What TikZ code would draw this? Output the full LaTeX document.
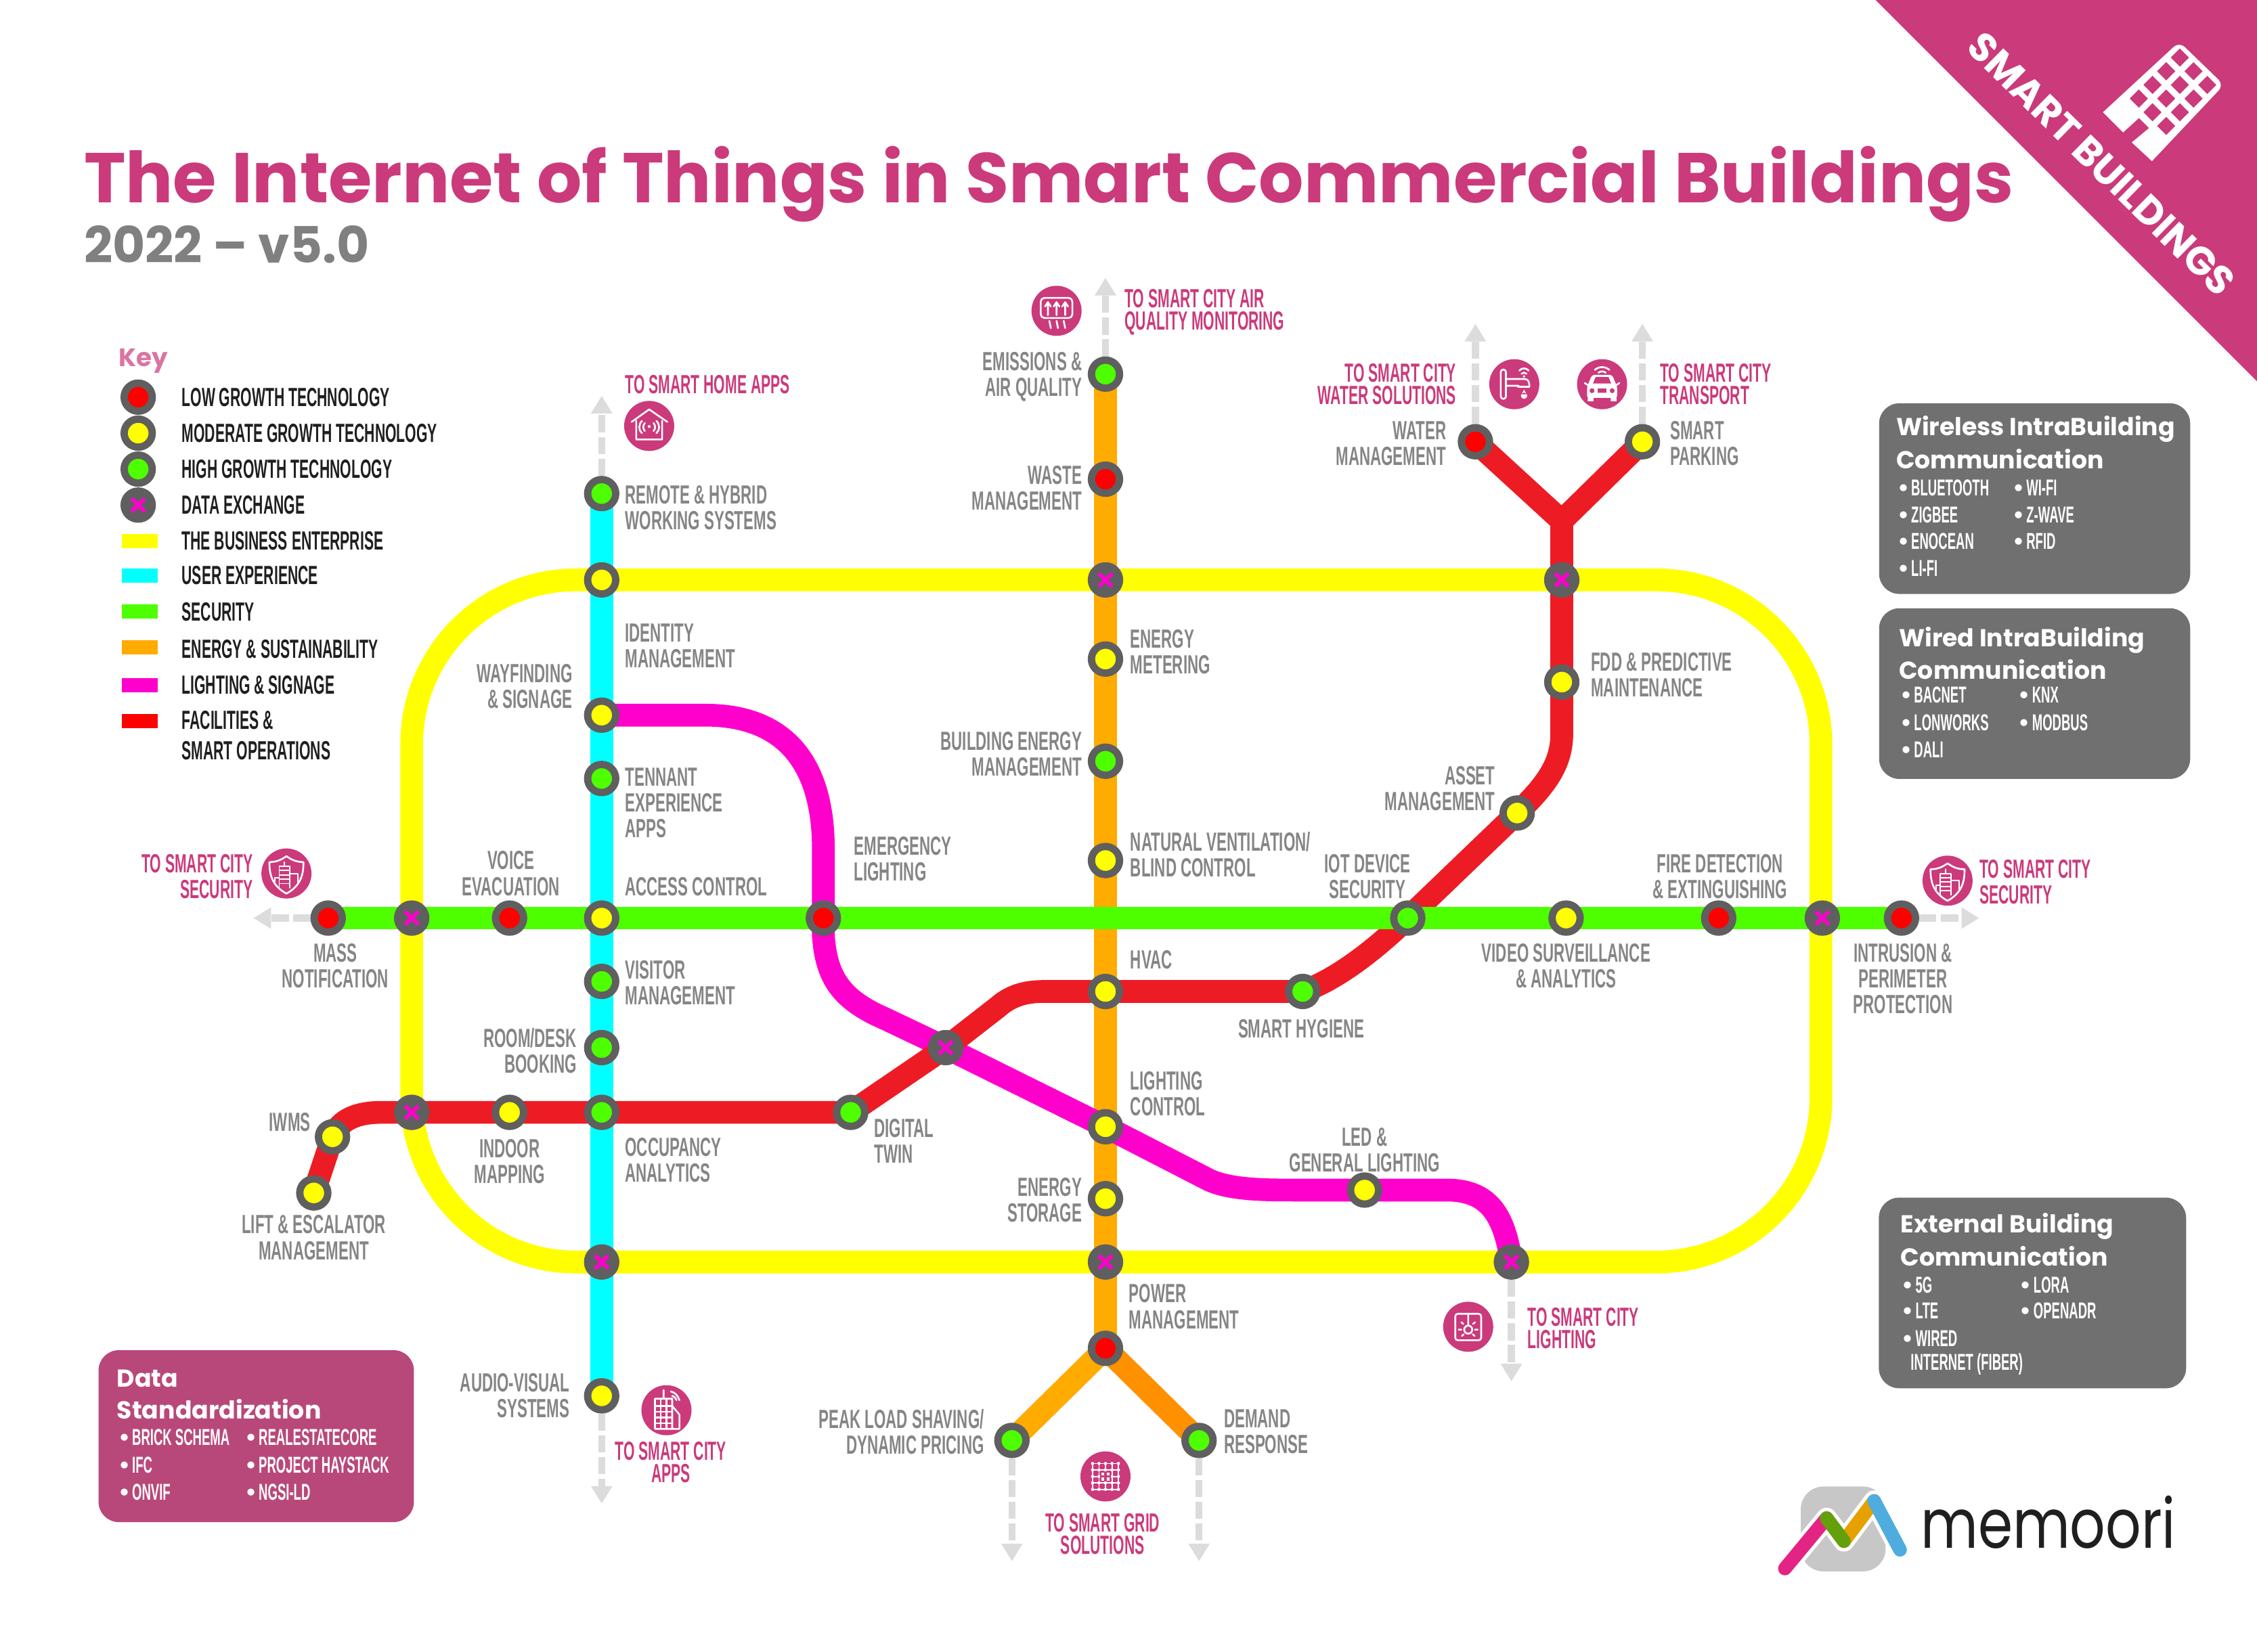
\documentclass[tikz,border=0pt]{standalone}
\usepackage{fontspec}
\usepackage{tikz}
\usetikzlibrary{arrows.meta}
\usetikzlibrary{shapes.geometric}
\newfontfamily\bebas[FakeStretch=0.545]{Liberation Sans}
\newfontfamily\bebaswide[FakeStretch=0.575]{Liberation Sans}
\newfontfamily\popfont{Poppins}
\newfontfamily\logofont[FakeStretch=0.81]{Poppins}
\newcommand{\itembul}{{\popfont •}\hspace{0.8pt}}
\definecolor{metroyellow}{HTML}{FFFF00}
\definecolor{metrocyan}{HTML}{00FFFF}
\definecolor{metrogreen}{HTML}{4EFF00}
\definecolor{metroorange}{HTML}{FFAB00}
\definecolor{metromagenta}{HTML}{FF00CC}
\definecolor{metrored}{HTML}{ED1C24}
\definecolor{dotred}{HTML}{FF0000}
\definecolor{ringgrey}{HTML}{5F5F5F}
\definecolor{labelgrey}{HTML}{858585}
\definecolor{smartpink}{HTML}{CB3A7B}
\definecolor{datapink}{HTML}{B9487A}
\definecolor{boxgrey}{HTML}{707070}
\definecolor{arrowgrey}{HTML}{DCDCDC}
\pgfdeclarelayer{lines}
\pgfsetlayers{lines,main}
\tikzstyle{lowst}=[circle,draw=ringgrey,line width=2.9pt,minimum size=11.1pt,inner sep=0pt,fill=dotred]
\tikzstyle{modst}=[lowst,fill=metroyellow]
\tikzstyle{highst}=[lowst,fill=metrogreen]
\tikzstyle{xst}=[lowst,fill=ringgrey,path picture={
        \draw[metromagenta,line width=1.5pt] (-2.6pt,-2.6pt) -- (2.6pt,2.6pt) (-2.6pt,2.6pt) -- (2.6pt,-2.6pt);}]
\tikzstyle{metro}=[line width=9pt,line join=round]
\tikzstyle{tocity}=[-{Triangle[length=7pt,width=8pt]},arrowgrey,line width=2.8pt,dash pattern=on 6.8pt off 1.8pt]
\tikzstyle{lbl}=[inner sep=0pt,text=labelgrey,font=\bebaswide\bfseries\fontsize{10.4}{10.2}\selectfont]
\tikzstyle{lblw}=[lbl,anchor=west,align=left]
\tikzstyle{lble}=[lbl,anchor=east,align=right]
\tikzstyle{lblc}=[lbl,align=center]
\tikzstyle{citylbl}=[text=smartpink,font=\bebas\bfseries\fontsize{10.4}{8.8}\selectfont]
\tikzstyle{citysec}=[text=smartpink,font=\bebas\bfseries\fontsize{10.4}{10.2}\selectfont]
\tikzstyle{keytxt}=[lblw,text=black!88,font=\bebas\bfseries\fontsize{10.4}{10.2}\selectfont]
\tikzstyle{swatch}=[inner sep=0pt,minimum width=14.2pt,minimum height=5.6pt]
\tikzstyle{iconbg}=[circle,fill=smartpink,minimum size=19.8pt,inner sep=0pt]
\tikzstyle{iconline}=[white,line width=0.7pt,line cap=round,line join=round]
\tikzstyle{infobox}=[rounded corners=8pt,inner sep=0pt]
\tikzstyle{boxhead}=[anchor=west,inner sep=0pt,text=white,font=\popfont\bfseries\fontsize{9.7}{12}\selectfont]
\tikzstyle{boxitem}=[anchor=west,inner sep=0pt,text=white,font=\bebas\bfseries\fontsize{9.1}{10}\selectfont]
\begin{document}
\begin{tikzpicture}[x=0.02cm,y=-0.02cm]
\useasboundingbox (0,0) rectangle (1568,1148);
% corner banner
\fill[smartpink] (1303,0) -- (1568,0) -- (1568,265) -- cycle;
\node[rotate=-44.5,text=white,inner sep=0pt,font=\popfont\bfseries\fontsize{15.6}{17}\selectfont] (banner) at (1460,114) {SMART BUILDINGS};
\fill[white] (1461,78) [rounded corners=3pt] -- (1514,29) -- (1545,59) [sharp corners] -- (1495,112) -- (1481,99) -- (1493,89) -- (1486,82) -- (1475,92) -- cycle;
\foreach \i in {0,...,3}
  \foreach \j in {0,1,2}
    \fill[smartpink] (1508.1-9.5*\i+9.5*\j,40+9.5*\i+9.5*\j) -- (1514.4-9.5*\i+9.5*\j,33.7+9.5*\i+9.5*\j) -- (1520.7-9.5*\i+9.5*\j,40+9.5*\i+9.5*\j) -- (1514.4-9.5*\i+9.5*\j,46.3+9.5*\i+9.5*\j) -- cycle;
% title
\node[anchor=west,inner sep=0pt,text=smartpink,font=\popfont\bfseries\fontsize{27.9}{30}\selectfont] (title) at (58,128) {The Internet of Things in Smart Commercial Buildings};
\node[anchor=west,inner sep=0pt,text=gray,font=\popfont\bfseries\fontsize{19.8}{22}\selectfont] (subtitle) at (58,170) {2022 – v5.0};
% key
\node[anchor=west,inner sep=0pt,text=smartpink!70!white,font=\popfont\bfseries\fontsize{10}{12}\selectfont] (keyhead) at (82,251) {Key};
\node[lowst] (keylow) at (96,276) {};
\node[modst] (keymod) at (96,301) {};
\node[highst] (keyhigh) at (96,326) {};
\node[xst] (keyx) at (96,351) {};
\node[swatch,fill=metroyellow] (keybus) at (97,376) {};
\node[swatch,fill=metrocyan] (keyuser) at (97,400) {};
\node[swatch,fill=metrogreen] (keysec) at (97,425) {};
\node[swatch,fill=metroorange] (keyener) at (97,450) {};
\node[swatch,fill=metromagenta] (keylight) at (97,476) {};
\node[swatch,fill=dotred] (keyfac) at (97,501) {};
\node[keytxt] (tlow) at (126,276) {LOW GROWTH TECHNOLOGY};
\node[keytxt] (tmod) at (126,301) {MODERATE GROWTH TECHNOLOGY};
\node[keytxt] (thigh) at (126,326) {HIGH GROWTH TECHNOLOGY};
\node[keytxt] (tx) at (126,351) {DATA EXCHANGE};
\node[keytxt] (tbus) at (126,376) {THE BUSINESS ENTERPRISE};
\node[keytxt] (tuser) at (126,400) {USER EXPERIENCE};
\node[keytxt] (tsec) at (126,425) {SECURITY};
\node[keytxt] (tener) at (126,451) {ENERGY \& SUSTAINABILITY};
\node[keytxt] (tlight) at (126,476) {LIGHTING \& SIGNAGE};
\node[keytxt,font=\bebas\bfseries\fontsize{10.4}{12}\selectfont] (tfac) at (126,511) {FACILITIES \&\\SMART OPERATIONS};
% stations, user experience
\node[highst] (remote) at (418,343) {};
\node[modst] (identity) at (418,403) {};
\node[modst] (wayfinding) at (418,497) {};
\node[highst] (tennant) at (418,541) {};
\node[modst] (access) at (418,638) {};
\node[highst] (visitor) at (418,682) {};
\node[highst] (roomdesk) at (418,728) {};
\node[highst] (occupancy) at (418,773) {};
\node[xst] (xbotuser) at (418,877) {};
\node[modst] (audio) at (418,970) {};
% stations, energy
\node[highst] (emissions) at (768,260) {};
\node[lowst] (waste) at (768,333) {};
\node[xst] (xtopener) at (768,403) {};
\node[modst] (metering) at (768,458) {};
\node[highst] (bems) at (768,529) {};
\node[modst] (natural) at (768,598) {};
\node[modst] (hvac) at (768,689) {};
\node[modst] (lighting) at (768,783) {};
\node[modst] (storage) at (768,833) {};
\node[xst] (xbotener) at (768,877) {};
\node[lowst] (power) at (768,937) {};
\node[highst] (peak) at (703,1001) {};
\node[highst] (demand) at (833,1001) {};
% stations, facilities
\node[lowst] (water) at (1025,307) {};
\node[modst] (parking) at (1141,307) {};
\node[xst] (xtopfac) at (1085,403) {};
\node[modst] (fdd) at (1085,474) {};
\node[modst] (asset) at (1054,565) {};
\node[highst] (iot) at (978,638) {};
\node[highst] (hygiene) at (905,689) {};
\node[xst] (xmid) at (657,728) {};
\node[highst] (twin) at (591,773) {};
\node[modst] (indoor) at (354,773) {};
\node[xst] (xleftfac) at (286,773) {};
\node[modst] (iwms) at (231,790) {};
\node[modst] (lift) at (218,829) {};
% stations, security
\node[lowst] (mass) at (228,638) {};
\node[xst] (xleftsec) at (286,638) {};
\node[lowst] (voice) at (354,638) {};
\node[lowst] (emergency) at (572,638) {};
\node[modst] (video) at (1088,638) {};
\node[lowst] (fire) at (1194,638) {};
\node[xst] (xrightsec) at (1266,638) {};
\node[lowst] (intrusion) at (1321,638) {};
% stations, lighting
\node[modst] (led) at (948,827) {};
\node[xst] (xbotlight) at (1050,877) {};
% free ends
\coordinate (yjoin) at (1085,362);
\coordinate (loopnw) at (286,403);
\coordinate (loopse) at (1265,877);
\coordinate (endhome) at (418,275);
\coordinate (endapps) at (418,1045);
\coordinate (endair) at (768,193);
\coordinate (endpeak) at (703,1085);
\coordinate (enddemand) at (833,1085);
\coordinate (endwater) at (1025,225);
\coordinate (endpark) at (1141,225);
\coordinate (endsecl) at (176,638);
\coordinate (endsecr) at (1375,638);
\coordinate (endlight) at (1050,960);
% lines
\begin{pgfonlayer}{lines}
\draw[tocity] (remote) -- (endhome);
\draw[tocity] (audio) -- (endapps);
\draw[tocity] (emissions) -- (endair);
\draw[tocity] (peak) -- (endpeak);
\draw[tocity] (demand) -- (enddemand);
\draw[tocity] (water) -- (endwater);
\draw[tocity] (parking) -- (endpark);
\draw[tocity] (mass) -- (endsecl);
\draw[tocity] (intrusion) -- (endsecr);
\draw[tocity] (xbotlight) -- (endlight);
\draw[metro,metroorange] (emissions.center) -- (power.center) -- (peak.center);
\draw[metro,metroorange!85!red] (power.center) -- (demand.center);
\draw[metro,metrocyan] (remote.center) -- (audio.center);
\draw[metro,metroyellow,rounded corners=65pt] (loopnw) rectangle (loopse);
\draw[metro,metromagenta] (wayfinding.center) -- (490,497) .. controls (545,497) and (572,530) .. (572,590) -- (emergency.center) -- (572,650) .. controls (574,680) and (585,695) .. (615,708) -- (xmid.center) -- (lighting.center) -- (840,820) .. controls (855,827) and (880,827) .. (900,827) -- (led.center) -- (1005,827) .. controls (1035,827) and (1045,845) .. (xbotlight.center);
\draw[metro,metrored] (water.center) -- (yjoin) -- (parking.center);
\draw[metro,metrored] (yjoin) -- (fdd.center) -- (1085,510) .. controls (1085,530) and (1075,545) .. (asset.center) -- (iot.center) .. controls (950,665) and (925,682) .. (hygiene.center) -- (hvac.center) -- (725,689) .. controls (712,689) and (702,692) .. (693,700) -- (xmid.center) -- (twin.center) -- (xleftfac.center) -- (265,773) .. controls (248,773) and (236,778) .. (iwms.center) -- (lift.center);
\draw[metro,metrogreen] (mass.center) -- (intrusion.center);
\end{pgfonlayer}
% station labels
\node[lblw] (lremote) at (434,353) {REMOTE \& HYBRID\\WORKING SYSTEMS};
\node[lblw] (lidentity) at (434,449) {IDENTITY\\MANAGEMENT};
\node[lble] (lway) at (398,477) {WAYFINDING\\\& SIGNAGE};
\node[lblw] (ltennant) at (434,558) {TENNANT\\EXPERIENCE\\APPS};
\node[lblw] (laccess) at (434,616) {ACCESS CONTROL};
\node[lblc] (lvoice) at (355,607) {VOICE\\EVACUATION};
\node[lblc] (lmass) at (233,671) {MASS\\NOTIFICATION};
\node[lblw] (lvisitor) at (434,683) {VISITOR\\MANAGEMENT};
\node[lble] (lroom) at (401,730) {ROOM/DESK\\BOOKING};
\node[lble] (liwms) at (216,780) {IWMS};
\node[lblc] (lindoor) at (354,807) {INDOOR\\MAPPING};
\node[lblw] (loccup) at (434,806) {OCCUPANCY\\ANALYTICS};
\node[lblc] (llift) at (218,860) {LIFT \& ESCALATOR\\MANAGEMENT};
\node[lble] (laudio) at (396,970) {AUDIO-VISUAL\\SYSTEMS};
\node[lble] (lemiss) at (752,262) {EMISSIONS \&\\AIR QUALITY};
\node[lble] (lwaste) at (752,339) {WASTE\\MANAGEMENT};
\node[lblw] (lmeter) at (785,453) {ENERGY\\METERING};
\node[lble] (lbems) at (752,524) {BUILDING ENERGY\\MANAGEMENT};
\node[lblw] (lnat) at (785,594) {NATURAL VENTILATION/\\BLIND CONTROL};
\node[lblw] (lemerg) at (593,597) {EMERGENCY\\LIGHTING};
\node[lblw] (lhvac) at (785,667) {HVAC};
\node[lblw] (llight) at (785,760) {LIGHTING\\CONTROL};
\node[lblw] (ltwin) at (607,793) {DIGITAL\\TWIN};
\node[lble] (lstore) at (752,834) {ENERGY\\STORAGE};
\node[lblw] (lpower) at (784,908) {POWER\\MANAGEMENT};
\node[lble] (lpeak) at (684,995) {PEAK LOAD SHAVING/\\DYNAMIC PRICING};
\node[lblw] (ldemand) at (850,995) {DEMAND\\RESPONSE};
\node[lble] (lwater) at (1005,308) {WATER\\MANAGEMENT};
\node[lblw] (lpark) at (1160,308) {SMART\\PARKING};
\node[lblw] (lfdd) at (1105,469) {FDD \& PREDICTIVE\\MAINTENANCE};
\node[lble] (lasset) at (1039,548) {ASSET\\MANAGEMENT};
\node[lblc] (liot) at (950,609) {IOT DEVICE\\SECURITY};
\node[lblc] (lfire) at (1195,609) {FIRE DETECTION\\\& EXTINGUISHING};
\node[lblc] (lvideo) at (1088,671) {VIDEO SURVEILLANCE\\\& ANALYTICS};
\node[lblc] (lhyg) at (904,715) {SMART HYGIENE};
\node[lblc] (lintr) at (1322,680) {INTRUSION \&\\PERIMETER\\PROTECTION};
\node[lblc] (lled) at (948,799) {LED \&\\GENERAL LIGHTING};
% city labels
\node[lblw,citylbl] (chome) at (434,267) {TO SMART HOME APPS};
\node[lblw,citylbl] (cair) at (781,217) {TO SMART CITY AIR\\QUALITY MONITORING};
\node[lble,citylbl] (cwater) at (1012,267) {TO SMART CITY\\WATER SOLUTIONS};
\node[lblw,citylbl] (ccar) at (1153,267) {TO SMART CITY\\TRANSPORT};
\node[lble,citysec] (csecl) at (176,609) {TO SMART CITY\\SECURITY};
\node[lblw,citysec] (csecr) at (1375,613) {TO SMART CITY\\SECURITY};
\node[lblw,citylbl] (clight) at (1061,923) {TO SMART CITY\\LIGHTING};
\node[lblc,citylbl] (capps) at (466,1016) {TO SMART CITY\\APPS};
\node[lblc,citylbl] (cgrid) at (766,1066) {TO SMART GRID\\SOLUTIONS};
% icons
\node[iconbg] (ihome) at (451,296) {};
\begin{scope}[shift={(451,296)}]
\draw[iconline] (-12.2,-2.8) -- (0,-11.5) -- (12.6,-2.8) (-9,-3.5) -- (-9,9.4) -- (9,9.4) -- (9,-3.5);
\draw[iconline] (-3,-2) .. controls (-4.5,-.5) and (-4.5,2) .. (-3,3.5) (3,-2) .. controls (4.5,-.5) and (4.5,2) .. (3,3.5);
\draw[iconline] (-5,-3.5) .. controls (-7.5,-1) and (-7.5,3) .. (-5,5) (5,-3.5) .. controls (7.5,-1) and (7.5,3) .. (5,5);
\fill[white] (0,.4) circle (1);
\end{scope}
\node[iconbg] (iair) at (734,216) {};
\begin{scope}[shift={(734,216)}]
\draw[iconline,rounded corners=1.5pt] (-11,-9) rectangle (11,5);
\draw[iconline] (-6,3) -- (-6,-5) (0,3) -- (0,-5) (6,3) -- (6,-5) (-8,-3) -- (-6,-6) -- (-4,-3) (-2,-3) -- (0,-6) -- (2,-3) (4,-3) -- (6,-6) -- (8,-3);
\draw[iconline] (-5,7) -- (-4,12) (0,7) -- (1,12) (5,7) -- (6,12);
\end{scope}
\node[iconbg] (iwater) at (1052,267) {};
\begin{scope}[shift={(1052,267)}]
\draw[iconline,rounded corners=1pt] (-9.4,-10.2) rectangle (-5.8,10.2);
\draw[iconline] (-5.8,-3.6) -- (7,-3.6) .. controls (9.5,-3.6) and (10.5,-2) .. (10.5,1.5) (-5.8,1.1) -- (3,1.1) (2.5,1.8) -- (10.5,1.8);
\draw[iconline] (3.5,-9.5) .. controls (5.5,-11.5) and (8,-11.5) .. (10,-9.5) (5,-7.3) .. controls (6,-8.3) and (7.5,-8.3) .. (8.5,-7.3);
\fill[white] (6.8,-5.4) circle (.9);
\fill[white] (6.8,8) circle (2.2) (6.8,3.8) -- (5,7) -- (8.6,7) -- cycle;
\end{scope}
\node[iconbg] (icar) at (1113,267) {};
\begin{scope}[shift={(1113,267)}]
\fill[white,rounded corners=1pt] (-10.5,9.5) -- (-10.5,2) -- (-7,-6.5) -- (7,-6.5) -- (10.5,2) -- (10.5,9.5) -- cycle;
\fill[white] (-10,9) rectangle (-6,11.8) (6,9) rectangle (10,11.8);
\fill[smartpink] (-6.3,-.5) -- (-4.5,-5) -- (4.5,-5) -- (6.3,-.5) -- cycle;
\fill[smartpink] (-7,4.5) circle (1.7) (7,4.5) circle (1.7) (-3,3) rectangle (3,6);
\draw[iconline] (-12,-.8) -- (-9,1.2) (12,-.8) -- (9,1.2);
\draw[iconline] (-5,-10) .. controls (-2,-12.5) and (2,-12.5) .. (5,-10) (-2.5,-8) .. controls (-1,-9.2) and (1,-9.2) .. (2.5,-8);
\end{scope}
\node[iconbg] (iseclt) at (199,607) {};
\node[iconbg] (isecrt) at (1353,612) {};
\foreach \ix/\iy in {199/607,1353/612}{
\begin{scope}[shift={(\ix,\iy)}]
\draw[iconline] (-11.8,-7.9) .. controls (-6,-8) and (-3,-10) .. (0,-12) .. controls (3,-10) and (6,-8) .. (11.8,-7.9) .. controls (12,2) and (9,9) .. (0,14) .. controls (-9,9) and (-12,2) .. (-11.8,-7.9) -- cycle;
\draw[iconline,line width=0.5pt] (-5,10) -- (-5,-5) -- (2.4,-5) -- (2.4,10) (-1.3,-5) -- (-1.3,-8) (-5,-2) -- (2.4,-2) (-5,1) -- (2.4,1) (-5,4) -- (2.4,4) (-5,7) -- (2.4,7);
\draw[iconline,line width=0.5pt] (2.4,0) -- (8,0) -- (8,6) (-5,3) -- (-8,3) -- (-8,6);
\end{scope}
}
\node[iconbg] (ilight) at (1020,922) {};
\begin{scope}[shift={(1020,922)}]
\draw[iconline,rounded corners=1pt] (-9,-9) rectangle (9,9.4);
\draw[iconline] (0,-9) -- (0,-.8) (0,2) circle (2.8);
\draw[iconline] (-4.7,-3.1) -- (-3.4,-2) (4.7,-3.1) -- (3.4,-2) (-6.6,2) -- (-4.7,2) (6.6,2) -- (4.7,2) (-4.4,6.3) -- (-3.1,5.2) (4.4,6.3) -- (3.1,5.2);
\end{scope}
\node[iconbg] (iapps) at (463,980) {};
\begin{scope}[shift={(463,980)}]
\draw[iconline] (-8,13) rectangle (4,-8) (-2,-8) -- (-2,-14) (4,-3) -- (9,3) -- (9,13) -- (4,13);
\draw[iconline] (-8,-3) -- (4,-3) (-8,1) -- (4,1) (-8,5) -- (4,5) (-8,9) -- (4,9) (-4,-8) -- (-4,13) (0,-8) -- (0,13);
\draw[iconline] (3,-13) .. controls (6,-12.5) and (8,-10) .. (9,-7) (4,-10) .. controls (5.5,-9.5) and (6.5,-8.5) .. (7,-7);
\end{scope}
\node[iconbg] (igrid) at (768,1026) {};
\begin{scope}[shift={(768,1026)}]
\draw[iconline,line width=0.5pt] (-9,-9) -- (9,-9) (-9,-4.5) -- (9,-4.5) (-9,0) -- (9,0) (-9,4.5) -- (9,4.5) (-9,9) -- (9,9);
\draw[iconline,line width=0.5pt] (-9,-9) -- (-9,9) (-4.5,-9) -- (-4.5,9) (0,-9) -- (0,9) (4.5,-9) -- (4.5,9) (9,-9) -- (9,9);
\foreach \gx in {-9,-4.5,0,4.5,9}
  \foreach \gy in {-9,-4.5,0,4.5,9}
    \fill[white] (\gx,\gy) circle (1.1);
\fill[smartpink] (-3.6,-3.6) rectangle (3.6,3.6);
\foreach \gx in {-1.8,1.8}
  \foreach \gy in {-1.8,1.8}
    \fill[white] (\gx-1,\gy-1) rectangle (\gx+1,\gy+1);
\end{scope}
% info boxes
\node[infobox,fill=boxgrey,minimum width=123pt,minimum height=75.4pt] (wireless) at (1413.5,346.5) {};
\node[boxhead] (hwirelessa) at (1317,298) {Wireless IntraBuilding};
\node[boxhead] (hwirelessb) at (1317,319) {Communication};
\node[boxitem] (ibt) at (1318,339) {\itembul BLUETOOTH};
\node[boxitem] (izig) at (1318,358) {\itembul ZIGBEE};
\node[boxitem] (ieno) at (1318,376) {\itembul ENOCEAN};
\node[boxitem] (ilifi) at (1318,395) {\itembul LI-FI};
\node[boxitem] (iwifi) at (1398,339) {\itembul WI-FI};
\node[boxitem] (izw) at (1398,358) {\itembul Z-WAVE};
\node[boxitem] (irfid) at (1398,376) {\itembul RFID};
\node[infobox,fill=boxgrey,minimum width=123pt,minimum height=67.5pt] (wired) at (1413.5,482) {};
\node[boxhead] (hwireda) at (1319,445) {Wired IntraBuilding};
\node[boxhead] (hwiredb) at (1319,465) {Communication};
\node[boxitem] (ibac) at (1320,483) {\itembul BACNET};
\node[boxitem] (ilon) at (1320,502) {\itembul LONWORKS};
\node[boxitem] (idali) at (1320,521) {\itembul DALI};
\node[boxitem] (iknx) at (1402,483) {\itembul KNX};
\node[boxitem] (imod) at (1402,502) {\itembul MODBUS};
\node[infobox,fill=boxgrey,minimum width=121.5pt,minimum height=75.4pt] (external) at (1412,898.5) {};
\node[boxhead] (hexta) at (1320,852) {External Building};
\node[boxhead] (hextb) at (1320,873) {Communication};
\node[boxitem] (ifive) at (1321,893) {\itembul 5G};
\node[boxitem] (ilte) at (1321,911) {\itembul LTE};
\node[boxitem] (iwired) at (1321,930) {\itembul WIRED};
\node[boxitem] (ifiber) at (1327,948) {INTERNET (FIBER)};
\node[boxitem] (ilora) at (1403,893) {\itembul LORA};
\node[boxitem] (iopen) at (1403,911) {\itembul OPENADR};
\node[infobox,fill=datapink,minimum width=124.7pt,minimum height=68pt] (datastd) at (178,998) {};
\node[boxhead] (hdataa) at (81,958) {Data};
\node[boxhead] (hdatab) at (81,979) {Standardization};
\node[boxitem] (ibrick) at (82,999) {\itembul BRICK SCHEMA};
\node[boxitem] (iifc) at (82,1018) {\itembul IFC};
\node[boxitem] (ionvif) at (82,1037) {\itembul ONVIF};
\node[boxitem] (ireal) at (170,999) {\itembul REALESTATECORE};
\node[boxitem] (ihay) at (170,1018) {\itembul PROJECT HAYSTACK};
\node[boxitem] (ingsi) at (170,1037) {\itembul NGSI-LD};
% logo
\fill[black!22,rounded corners=9pt] (1251,1033) rectangle (1310,1092);
\draw[white,line width=8.2pt,line cap=round,line join=round] (1240,1090) -- (1269,1055) -- (1281,1071) -- (1302,1043) -- (1320,1077);
\draw[line width=5.4pt,line cap=round,color={rgb,255:red,228;green,36;blue,132}] (1240,1090) -- (1269,1055);
\draw[line width=5.4pt,line cap=round,color={rgb,255:red,230;green,160;blue,0}] (1281,1071) -- (1302,1043);
\draw[line width=5.4pt,line cap=round,color={rgb,255:red,78;green,173;blue,222}] (1302,1043) -- (1320,1077);
\draw[line width=5.4pt,line cap=round,color={rgb,255:red,100;green,160;blue,10}] (1269,1055) -- (1281,1071);
\node[anchor=west,inner sep=0pt,text=black!88,font=\logofont\fontsize{27.2}{30}\selectfont] (logotext) at (1334,1058) {memoori};
\end{tikzpicture}
\end{document}
